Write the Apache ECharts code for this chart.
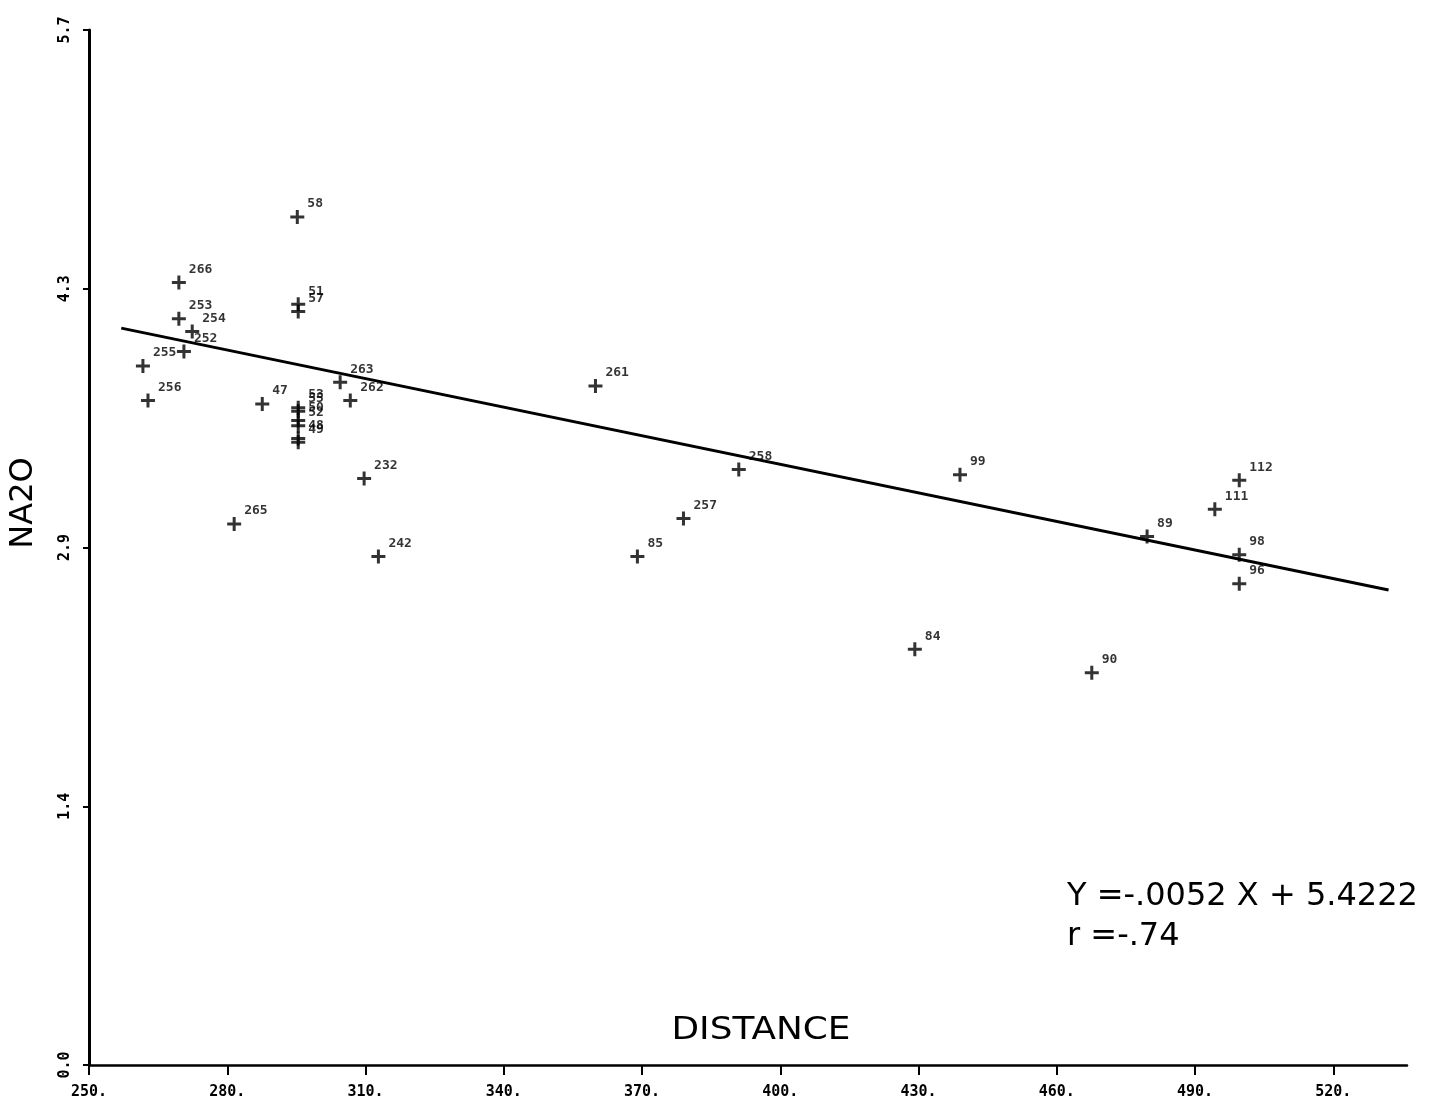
<!DOCTYPE html>
<html>
<head>
<meta charset="utf-8">
<script src="https://cdn.jsdelivr.net/npm/echarts@6/dist/echarts.min.js"></script>
<style>
html,body{margin:0;padding:0;background:#fff;}
#chart{width:1437px;height:1105px;}
</style>
</head>
<body>
<div id="chart"></div>
<script>
// Sample labels, DISTANCE (x) and NA2O (y) values
const pointLabels = ['266','253','254','252','255','256','47','58','51','57','263','262','53','55','50','52','48','49','232','265','242','261','258','257','85','99','89','112','111','98','96','84','90'];
const distance = [269.5,269.5,272.4,270.6,261.7,262.8,287.6,295.2,295.4,295.4,304.5,306.7,295.4,295.4,295.4,295.4,295.4,295.4,309.7,281.5,312.8,359.9,391.0,379.0,369.0,439.0,479.6,499.6,494.3,499.6,499.6,429.2,467.6];
const na2o = [4.31,4.11,4.04,3.93,3.85,3.66,3.64,4.67,4.19,4.15,3.76,3.66,3.62,3.60,3.55,3.52,3.45,3.43,3.23,2.98,2.80,3.74,3.28,3.01,2.80,3.25,2.91,3.22,3.06,2.81,2.65,2.29,2.16];
// Regression line end points (Y = -.0052X + 5.4222 as drawn)
const fitX = [257, 532];
const fitY = [4.058, 2.616];
// Axis ticks
const xTicks = [250, 280, 310, 340, 370, 400, 430, 460, 490, 520];
const yTickValues = [0, 1.425, 2.85, 4.275, 5.7];
const yTickLabels = ['0.0', '1.4', '2.9', '4.3', '5.7'];
const equationText = ['Y =-.0052 X + 5.4222', 'r =-.74'];

const chart = echarts.init(document.getElementById('chart'), null, {renderer: 'canvas'});
const plus = 'path://M5.5,0h3v5.5h5.5v3h-5.5v5.5h-3v-5.5h-5.5v-3h5.5z';
const scatterData = pointLabels.map((n, i) => ({name: n, value: [distance[i], na2o[i]]}));
const tickFont = {fontFamily: 'DejaVu Sans Mono', fontWeight: 'bold', fontSize: 15, color: '#000'};

chart.setOption({
  backgroundColor: '#fff',
  animation: false,
  grid: {left: 89, right: 30, top: 30, bottom: 40, containLabel: false, outerBoundsMode: 'none'},
  xAxis: {
    type: 'value', min: 250, max: 536,
    axisLine: {show: true, lineStyle: {color: '#000', width: 2.5}},
    axisTick: {show: true, length: 10, customValues: xTicks, lineStyle: {color: '#000', width: 2}},
    axisLabel: Object.assign({margin: 20, customValues: xTicks, formatter: v => Math.round(v) + '.'}, tickFont),
    splitLine: {show: false}
  },
  yAxis: {
    type: 'value', min: 0, max: 5.7,
    axisLine: {show: true, lineStyle: {color: '#000', width: 3}},
    axisTick: {show: true, length: 6, customValues: yTickValues, lineStyle: {color: '#000', width: 2}},
    axisLabel: Object.assign({margin: 16, rotate: 90, customValues: yTickValues, formatter: v => {
      let bi = 0;
      yTickValues.forEach((t, i) => { if (Math.abs(t - v) < Math.abs(yTickValues[bi] - v)) bi = i; });
      return yTickLabels[bi];
    }}, tickFont),
    splitLine: {show: false}
  },
  series: [
    {
      type: 'line',
      data: fitX.map((x, i) => [x, fitY[i]]),
      symbol: 'none',
      lineStyle: {color: '#000', width: 3},
      z: 2
    },
    {
      type: 'scatter',
      data: scatterData,
      symbol: plus,
      symbolSize: 14,
      itemStyle: {color: '#000'},
      label: {
        show: true, position: 'right', distance: 3, offset: [0, -13],
        formatter: '{b}', fontFamily: 'DejaVu Sans Mono', fontWeight: 'bold',
        fontSize: 13, color: '#000'
      },
      z: 3
    }
  ],
  graphic: [
    {type: 'text', x: 24, y: 503, rotation: Math.PI / 2,
     style: {text: 'NA2O', x: 0, y: 0, align: 'center', verticalAlign: 'middle', font: '32px "DejaVu Sans"', fill: '#000'}},
    {type: 'text', x: 761, y: 1031, scaleX: 1.12,
     style: {text: 'DISTANCE', x: 0, y: 0, align: 'center', verticalAlign: 'middle', font: '32px "DejaVu Sans"', fill: '#000'}},
    {type: 'text', x: 1067, y: 897,
     style: {text: equationText[0], x: 0, y: 0, align: 'left', verticalAlign: 'middle', font: '32px "DejaVu Sans"', fill: '#000'}},
    {type: 'text', x: 1067, y: 937,
     style: {text: equationText[1], x: 0, y: 0, align: 'left', verticalAlign: 'middle', font: '32px "DejaVu Sans"', fill: '#000'}}
  ]
});
</script>
</body>
</html>
